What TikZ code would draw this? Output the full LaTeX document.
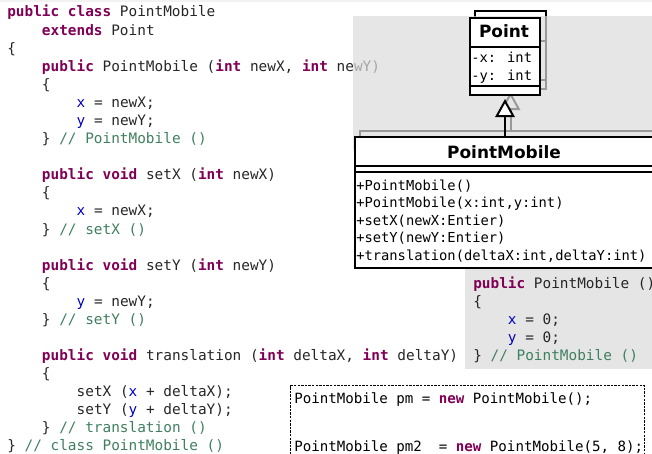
\documentclass[tikz,border=0pt]{standalone}
\usepackage{fontspec}
\usetikzlibrary{arrows.meta}
\newfontfamily\cmono{DejaVu Sans Mono}
\newfontfamily\csans{DejaVu Sans}
\definecolor{kwc}{HTML}{7F0055}
\definecolor{fdc}{HTML}{0000C0}
\definecolor{cmc}{HTML}{3F7F5F}
\definecolor{txc}{HTML}{262626}
\newcommand\kw[1]{{\bfseries\color{kwc}#1}}
\newcommand\fd[1]{{\color{fdc}#1}}
\newcommand\cm[1]{{\color{cmc}#1}}
\tikzset{
  code/.style={anchor=base west, inner sep=0pt, text=txc, font=\cmono\fontsize{10.8}{13}\selectfont},
  snip/.style={anchor=base west, inner sep=0pt, text=black, font=\cmono\fontsize{10.6}{13}\selectfont},
  member/.style={anchor=base west, inner sep=0pt, text=black, font=\cmono\fontsize{10.33}{12}\selectfont},
  cname/.style={anchor=base, inner sep=0pt, text=black, font=\csans\bfseries\fontsize{12.7}{15}\selectfont},
  umlbox/.style={draw, fill=white, line width=1.5pt, inner sep=0pt, anchor=north west},
  inh/.style={line width=1.5pt, -{Triangle[length=13.5pt, width=14.5pt, fill=white]}},
}
\begin{document}
\begin{tikzpicture}[x=0.75pt, y=-0.75pt]
\path[use as bounding box] (0,0) rectangle (652,453);
\clip (0,0) rectangle (652,453);
\fill[black!5] (0,0) rectangle (652,2.5);
% ---- left code ----
\node[code] (l1)  at (7,17)      {\kw{public} \kw{class} PointMobile};
\node[code] (l2)  at (41.7,35.1) {\kw{extends} Point};
\node[code] (l3)  at (7,53.2)    {\{};
\node[code] (l4)  at (41.7,71.2) {\kw{public} PointMobile (\kw{int} newX, \kw{int} newY)};
\node[code] (l5)  at (41.7,89.3) {\{};
\node[code] (l6)  at (76.4,107.4) {\fd{x} = newX;};
\node[code] (l7)  at (76.4,125.5) {\fd{y} = newY;};
\node[code] (l8)  at (41.7,143.6) {\} \cm{// PointMobile ()}};
\node[code] (l10) at (41.7,179.7) {\kw{public} \kw{void} setX (\kw{int} newX)};
\node[code] (l11) at (41.7,197.8) {\{};
\node[code] (l12) at (76.4,215.9) {\fd{x} = newX;};
\node[code] (l13) at (41.7,234)   {\} \cm{// setX ()}};
\node[code] (l15) at (41.7,270.1) {\kw{public} \kw{void} setY (\kw{int} newY)};
\node[code] (l16) at (41.7,288.2) {\{};
\node[code] (l17) at (76.4,306.3) {\fd{y} = newY;};
\node[code] (l18) at (41.7,324.4) {\} \cm{// setY ()}};
\node[code] (l20) at (41.7,360.5) {\kw{public} \kw{void} translation (\kw{int} deltaX, \kw{int} deltaY)};
\node[code] (l21) at (41.7,378.6) {\{};
\node[code] (l22) at (76.4,396.7) {setX (\fd{x} + deltaX);};
\node[code] (l23) at (76.4,414.8) {setY (\fd{y} + deltaY);};
\node[code] (l24) at (41.7,432.8) {\} \cm{// translation ()}};
\node[code] (l25) at (7,450.9)    {\} \cm{// class PointMobile ()}};
% ---- ghost diagram (seen through the panel) ----
\begin{scope}[line width=1.5pt]
  \draw[fill=white] (475,11) rectangle (546,89);
  \draw (475,41) -- (546,41);
  \draw (475,80) -- (546,80);
  \draw (360,140) -- (360,131) -- (660,131);
  \draw[inh] (510.5,131) -- (510.5,92);
\end{scope}
% ---- translucent panel ----
\fill[black!14.3, fill opacity=0.7] (353,16) rectangle (652,150);
% ---- UML classes ----
\node[umlbox, minimum width=52.5pt, minimum height=57.75pt] (point) at (469,17) {};
\draw[line width=1.5pt] ([yshift=-22.5pt]point.north west) -- ([yshift=-22.5pt]point.north east);
\draw[line width=1.5pt] ([yshift=-51.75pt]point.north west) -- ([yshift=-51.75pt]point.north east);
\node[cname] (pointname) at (504,38) {Point};
\node[member] (ax) at (471,62) {-x: int};
\node[member] (ay) at (471,80) {-y: int};
\node[umlbox, minimum width=225.75pt, minimum height=98.25pt] (pm) at (354,136) {};
\draw[line width=1.5pt] ([yshift=-22.5pt]pm.north west) -- ([yshift=-22.5pt]pm.north east);
\draw[line width=1.5pt] ([yshift=-27pt]pm.north west) -- ([yshift=-27pt]pm.north east);
\node[cname] (pmname) at (504,158) {PointMobile};
\node[member] (m1) at (356,190)   {+PointMobile()};
\node[member] (m2) at (356,207.5) {+PointMobile(x:int,y:int)};
\node[member] (m3) at (356,225)   {+setX(newX:Entier)};
\node[member] (m4) at (356,242.5) {+setY(newY:Entier)};
\node[member] (m5) at (356,260)   {+translation(deltaX:int,deltaY:int)};
\draw[inh, shorten >=2.25pt] (point.south |- pm.north) -- (point.south);
% ---- constructor snippet ----
\node[fill=black!10, inner sep=0pt, anchor=north west, minimum width=140.25pt, minimum height=75pt] (ctor) at (465,269) {};
\node[code] (c1) at (473,288.2)   {\kw{public} PointMobile ()};
\node[code] (c2) at (473,306.3)   {\{};
\node[code] (c3) at (507.7,324.4) {\fd{x} = 0;};
\node[code] (c4) at (507.7,342.5) {\fd{y} = 0;};
\node[code] (c5) at (473,360.5)   {\} \cm{// PointMobile ()}};
% ---- usage snippet ----
\node[draw, dash pattern=on 1.8pt off 0.9pt, line width=1pt, inner sep=0pt, anchor=north west, minimum width=265.5pt, minimum height=70pt] (usage) at (290,385) {};
\node[snip] (u1) at (294,403) {PointMobile pm = \kw{new} PointMobile();};
\node[snip] (u2) at (294,451) {PointMobile pm2\ \ = \kw{new} PointMobile(5, 8);};
\end{tikzpicture}
\end{document}
